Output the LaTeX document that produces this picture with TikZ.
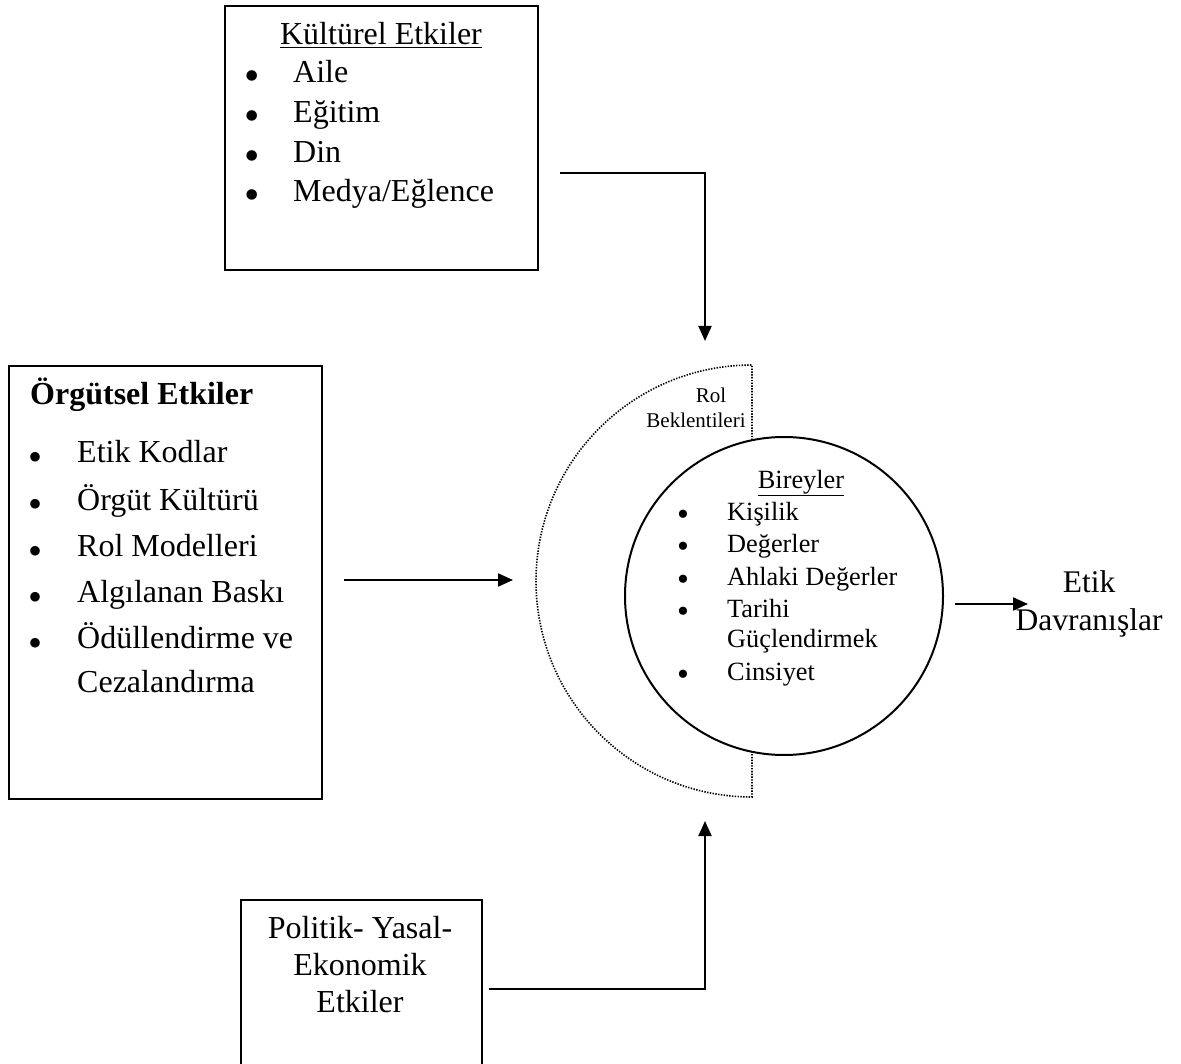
\documentclass[tikz,border=0pt]{standalone}
\usepackage{fontspec}
\setmainfont{Liberation Serif}
\usetikzlibrary{arrows.meta}
\begin{document}
\begin{tikzpicture}[x=1pt,y=-1pt,
  box/.style={draw,line width=2pt,inner sep=0pt,anchor=north west},
  big/.style={inner sep=0pt,font=\fontsize{32}{40}\selectfont},
  mid/.style={inner sep=0pt,font=\fontsize{32}{40}\selectfont},
  small/.style={inner sep=0pt,font=\fontsize{26.3}{32}\selectfont},
  tiny/.style={inner sep=0pt,font=\fontsize{21}{25}\selectfont},
  bigdot/.style={inner sep=0pt,anchor=base,font=\fontsize{44}{44}\selectfont},
  middot/.style={inner sep=0pt,anchor=base,font=\fontsize{40}{40}\selectfont},
  smalldot/.style={inner sep=0pt,anchor=base,font=\fontsize{34}{34}\selectfont},
  conn/.style={line width=2pt,-{Triangle[length=15pt,width=13pt]}},
  dotline/.style={line width=1.6pt,dash pattern=on 1.4pt off 1.4pt}]
\useasboundingbox (0,0) rectangle (1181,1064);
\clip (0,0) rectangle (1181,1064);
\fill[white] (0,0) rectangle (1181,1064);

% Top box: Kulturel Etkiler
\node[box,minimum width=313pt,minimum height=264pt] (kbox) at (224,5) {};
\node[big,anchor=base] (ktitle) at (381,45) {\underline{Kültürel Etkiler}};
\node[bigdot] (kb1) at (252,91) {\smash{•}};
\node[bigdot] (kb2) at (252,131) {\smash{•}};
\node[bigdot] (kb3) at (252,171) {\smash{•}};
\node[bigdot] (kb4) at (252,210) {\smash{•}};
\node[big,anchor=base west] (k1) at (293,83) {Aile};
\node[big,anchor=base west] (k2) at (293,123) {Eğitim};
\node[big,anchor=base west] (k3) at (293,163) {Din};
\node[big,anchor=base west] (k4) at (293,202) {Medya/Eğlence};

% Left box: Orgutsel Etkiler
\node[box,minimum width=313pt,minimum height=433pt] (obox) at (8,365) {};
\node[mid,anchor=base west,font=\fontsize{32}{40}\selectfont\bfseries] (otitle) at (30,405) {Örgütsel Etkiler};
\node[middot] (ob1) at (36,470) {\smash{•}};
\node[middot] (ob2) at (36,517) {\smash{•}};
\node[middot] (ob3) at (36,564) {\smash{•}};
\node[middot] (ob4) at (36,610) {\smash{•}};
\node[middot] (ob5) at (36,656) {\smash{•}};
\node[mid,anchor=base west] (o1) at (77,462) {Etik Kodlar};
\node[mid,anchor=base west] (o2) at (77,510) {Örgüt Kültürü};
\node[mid,anchor=base west] (o3) at (77,556) {Rol Modelleri};
\node[mid,anchor=base west] (o4) at (77,602) {Algılanan Baskı};
\node[mid,anchor=base west] (o5) at (77,648) {Ödüllendirme ve};
\node[mid,anchor=base west] (o6) at (77,692) {Cezalandırma};

% Bottom box
\node[box,minimum width=241pt,minimum height=220pt] (pbox) at (240,899) {};
\node[big,anchor=base] (p1) at (360,938) {Politik- Yasal-};
\node[big,anchor=base] (p2) at (360,975) {Ekonomik};
\node[big,anchor=base] (p3) at (360,1012) {Etkiler};

% Role expectations (dotted half ring)
\draw[dotline] (752,440) -- (752,365) arc[start angle=90,end angle=270,radius=216pt] -- (752,752);
\node[tiny,anchor=base] (rol1) at (711,403) {Rol};
\node[tiny,anchor=base] (rol2) at (696,428) {Beklentileri};

% Individuals circle
\node[circle,draw,line width=2pt,minimum size=318pt,inner sep=0pt] (birey) at (784,596) {};
\node[small,anchor=base] (btitle) at (801,488) {\underline{Bireyler}};
\node[smalldot] (bb1) at (683,525) {\smash{•}};
\node[smalldot] (bb2) at (683,557) {\smash{•}};
\node[smalldot] (bb3) at (683,590) {\smash{•}};
\node[smalldot] (bb4) at (683,622) {\smash{•}};
\node[smalldot] (bb5) at (683,685) {\smash{•}};
\node[small,anchor=base west] (b1) at (727,520) {Kişilik};
\node[small,anchor=base west] (b2) at (727,552) {Değerler};
\node[small,anchor=base west] (b3) at (727,585) {Ahlaki Değerler};
\node[small,anchor=base west] (b4) at (727,617) {Tarihi};
\node[small,anchor=base west] (b5) at (727,647) {Güçlendirmek};
\node[small,anchor=base west] (b6) at (727,680) {Cinsiyet};

% Outcome
\node[big,anchor=base,font=\fontsize{31.5}{40}\selectfont] (e1) at (1089,592) {Etik};
\node[big,anchor=base,font=\fontsize{31.5}{40}\selectfont] (e2) at (1089,630) {Davranışlar};

% Connector endpoints
\coordinate (ks) at (560,173);
\coordinate (kt) at (705,341);
\coordinate (os) at (344,580);
\coordinate (ot) at (513,580);
\coordinate (ps) at (489,989);
\coordinate (pt) at (705,821);
\coordinate (bs) at (955,604);
\coordinate (bt) at (1028,604);

\draw[conn] (ks) -| (kt);
\draw[conn] (os) -- (ot);
\draw[conn] (ps) -| (pt);
\draw[conn] (bs) -- (bt);
\end{tikzpicture}
\end{document}
